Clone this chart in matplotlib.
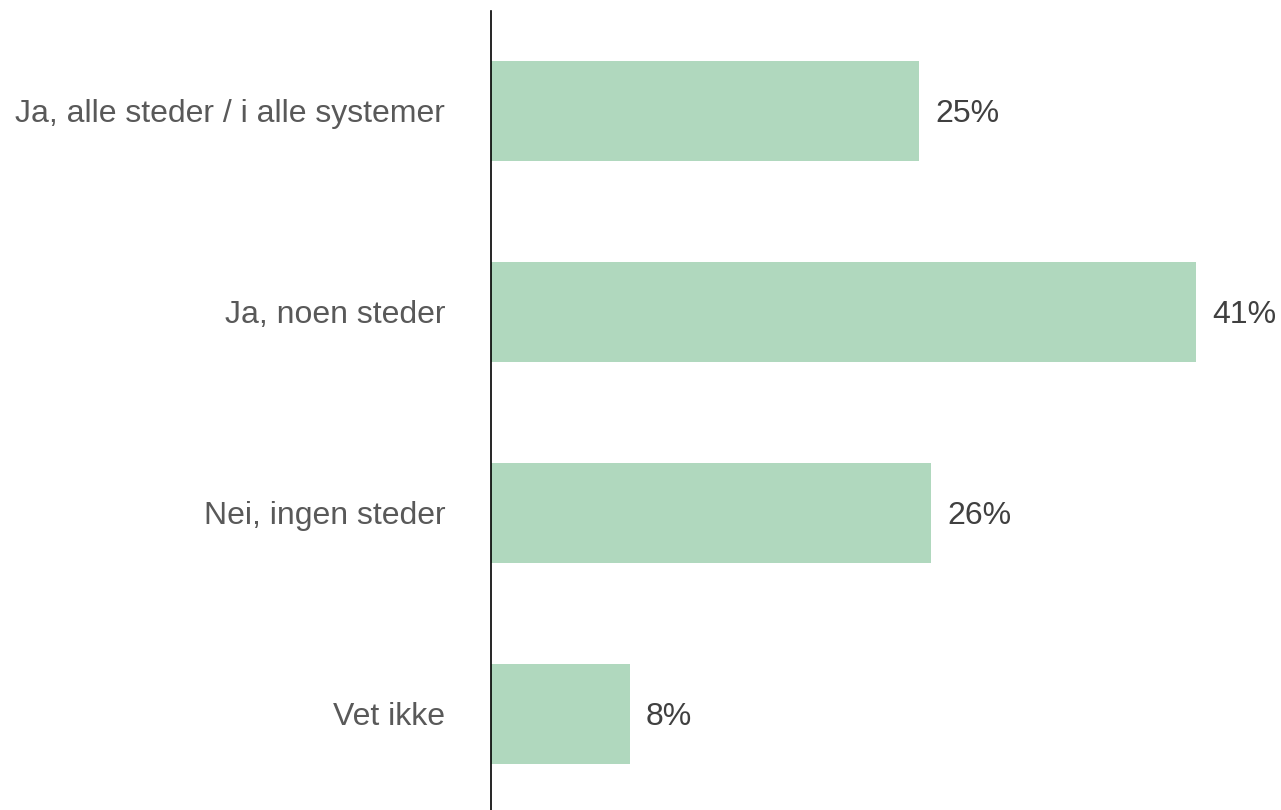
import matplotlib.pyplot as plt

# data
categories = ['Ja, alle steder / i alle systemer', 'Ja, noen steder', 'Nei, ingen steder', 'Vet ikke']
values = [24.9, 41.0, 25.6, 8.1]

plt.rcParams['font.family'] = ['Liberation Sans', 'DejaVu Sans']

fig = plt.figure(figsize=(12.81, 8.10), dpi=100)
ax = fig.add_axes([491 / 1281, 0, 757 / 1281, 1 - 11 / 810])

y = range(len(categories))
ax.barh(y, values, height=0.5, color='#b0d8be')

# value labels
for yi, v in zip(y, values):
    ax.text(v + 0.9, yi, f'{v:.0f}%', va='center_baseline', ha='left', fontsize=23, color='#404040')

ax.set_yticks(list(y))
ax.set_yticklabels(categories, fontsize=23, color='#595959')
ax.tick_params(axis='y', length=0, pad=33)
for lbl in ax.get_yticklabels():
    lbl.set_va('center_baseline')
ax.set_xticks([])
ax.set_xlim(0, 44)
ax.set_ylim(3.478, -0.4975)

for side in ['top', 'right', 'bottom']:
    ax.spines[side].set_visible(False)
ax.spines['left'].set_color('black')
ax.spines['left'].set_linewidth(1.2)

fig.savefig('out.png', dpi=100, facecolor='white')
